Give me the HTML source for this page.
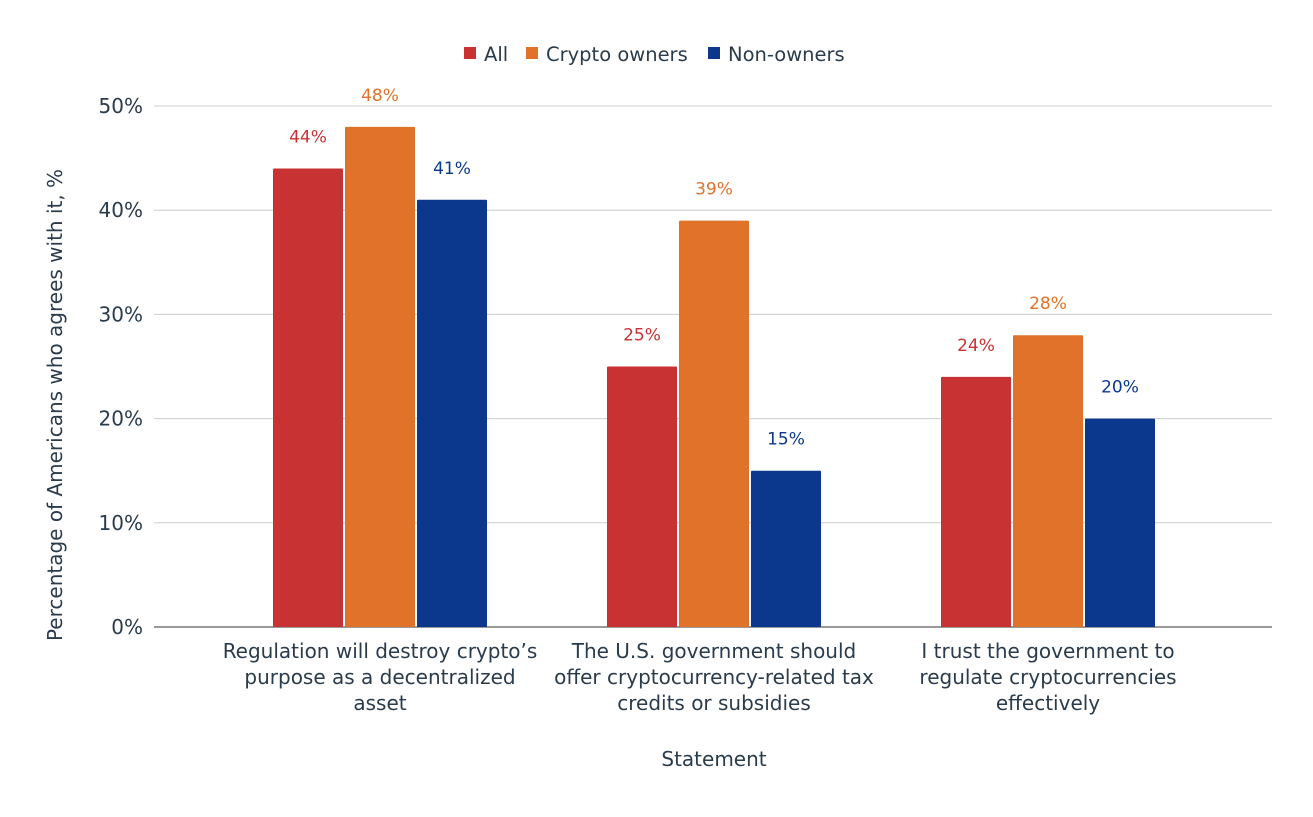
<!DOCTYPE html>
<html><head><meta charset="utf-8"><style>
body{margin:0;background:#fff;}
svg text{font-family:"DejaVu Sans","Liberation Sans",sans-serif;}
</style></head><body>
<svg width="1313" height="812" viewBox="0 0 1313 812" id="chart">
<g id="legend">
 <g><rect x="464" y="47" width="12" height="12" fill="#c83232"/><text x="484" y="61" font-size="19.5" fill="#2a3b4c">All</text></g>
 <g><rect x="526" y="47" width="12" height="12" fill="#e07229"/><text x="546" y="61" font-size="19.5" fill="#2a3b4c">Crypto owners</text></g>
 <g><rect x="708" y="47" width="12" height="12" fill="#0b388c"/><text x="728" y="61" font-size="19.5" fill="#2a3b4c">Non-owners</text></g>
</g>
<g id="grid"></g><g id="bars"></g><g id="xlabels"></g>
<text x="714" y="766" font-size="20" fill="#2a3b4c" text-anchor="middle">Statement</text>
<text transform="translate(62,405) rotate(-90)" font-size="20" fill="#2a3b4c" text-anchor="middle">Percentage of Americans who agrees with it, %</text>
</svg>
<script>
const categories=[["Regulation will destroy crypto’s","purpose as a decentralized","asset"],["The U.S. government should","offer cryptocurrency-related tax","credits or subsidies"],["I trust the government to","regulate cryptocurrencies","effectively"]];
const seriesNames=["All","Crypto owners","Non-owners"];
const allValues=[44,25,24];
const ownerValues=[48,39,28];
const nonOwnerValues=[41,15,20];
const yTicks=[0,10,20,30,40,50];
const colors=["#c83232","#e07229","#0b388c"];
const NS="http://www.w3.org/2000/svg";
const y=v=>627-v*10.42;
const gx=i=>380+i*334;
function mk(t,a,p){const e=document.createElementNS(NS,t);for(const k in a)e.setAttribute(k,a[k]);p.appendChild(e);return e;}
const grid=document.getElementById('grid');
yTicks.forEach(t=>{
 const l=mk('line',{x1:154,x2:1272,y1:y(t),y2:y(t),stroke:t===0?'#333':'#ccc','stroke-width':1},grid);
 
 
 const tx=mk('text',{x:143,y:y(t)+7,'font-size':20,fill:'#2a3b4c','text-anchor':'end'},grid);
 tx.textContent=t+'%';
 
 
});
const bars=document.getElementById('bars');
const series=[allValues,ownerValues,nonOwnerValues];
series.forEach((vals,s)=>{vals.forEach((v,i)=>{
 const x=gx(i)-107+s*72;
 const r=mk('rect',{x:x,y:y(v),width:70,height:y(0)-y(v),fill:colors[s],rx:1},bars);
 
 
 const t=mk('text',{x:x+35,y:y(v)-26,'font-size':17,fill:colors[s],'text-anchor':'middle'},bars);
 t.textContent=v+'%';
 
 
});});
const xl=document.getElementById('xlabels');
categories.forEach((lines,i)=>{lines.forEach((ln,j)=>{
 const t=mk('text',{x:gx(i),y:658+j*26,'font-size':20,fill:'#2a3b4c','text-anchor':'middle'},xl);
 t.textContent=ln;
 
 
});});
</script>
</body></html>
